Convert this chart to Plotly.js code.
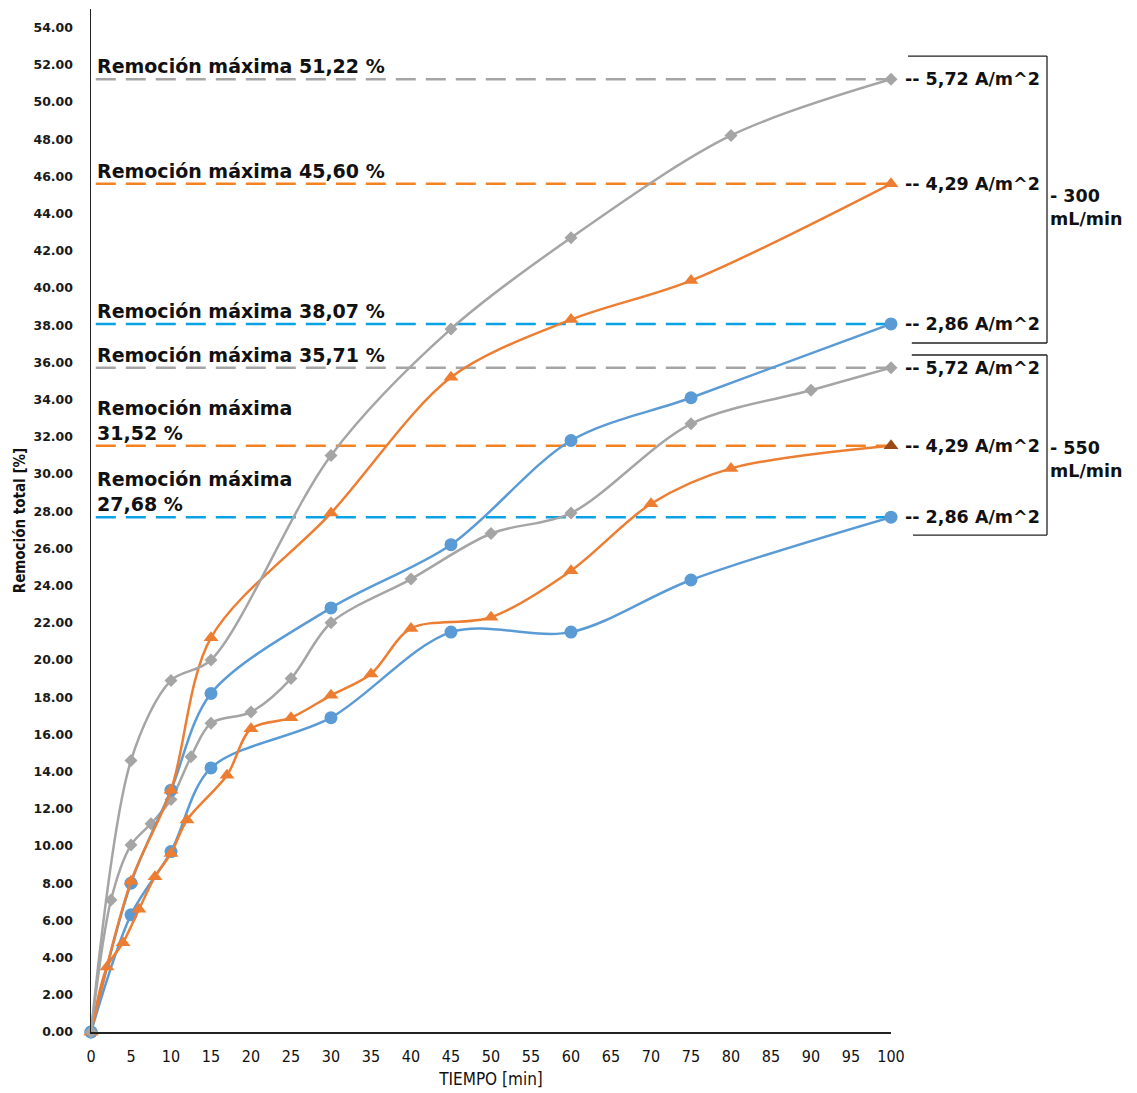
<!DOCTYPE html>
<html>
<head>
<meta charset="utf-8">
<script src="https://cdn.plot.ly/plotly-3.0.1.min.js"></script>
<style>html,body{margin:0;padding:0;background:#fff;}#chart{width:1137px;height:1093px;}</style>
</head>
<body>
<div id="chart"></div>
<script>
// ---- Data ----
// 300 mL/min
const t300 = [0, 5, 10, 15, 30, 45, 60, 75, 100];
const blue300 = [0, 8.0, 13.0, 18.2, 22.8, 26.2, 31.8, 34.1, 38.07];
const orange300 = [0, 8.1, 13.0, 21.2, 27.9, 35.2, 38.3, 40.4, 45.60];
const tGray300 = [0, 5, 10, 15, 30, 45, 60, 80, 100];
const gray300 = [0, 14.6, 18.9, 20.0, 31.0, 37.8, 42.7, 48.2, 51.22];
// 550 mL/min
const tBlue550 = [0, 5, 10, 15, 30, 45, 60, 75, 100];
const blue550 = [0, 6.3, 9.7, 14.2, 16.9, 21.5, 21.5, 24.3, 27.68];
const tOrange550 = [0, 2, 4, 6, 8, 10, 12, 17, 20, 25, 30, 35, 40, 50, 60, 70, 80, 100];
const orange550 = [0, 3.5, 4.8, 6.6, 8.35, 9.6, 11.4, 13.8, 16.3, 16.9, 18.1, 19.25, 21.7, 22.3, 24.8, 28.4, 30.3, 31.52];
const tGray550 = [0, 2.5, 5, 7.5, 10, 12.5, 15, 20, 25, 30, 40, 50, 60, 75, 90, 100];
const gray550 = [0, 7.1, 10.05, 11.2, 12.5, 14.8, 16.6, 17.2, 19.0, 22.0, 24.35, 26.8, 27.9, 32.7, 34.5, 35.71];

// maximum removal lines
const maxValues = [51.22, 45.60, 38.07, 35.71, 31.52, 27.68];
const maxLabels = ["Remoción máxima 51,22 %", "Remoción máxima 45,60 %", "Remoción máxima 38,07 %",
                   "Remoción máxima 35,71 %", "Remoción máxima<br>31,52 %", "Remoción máxima<br>27,68 %"];
const densityLabels = ["-- 5,72 A/m^2", "-- 4,29 A/m^2", "-- 2,86 A/m^2",
                       "-- 5,72 A/m^2", "-- 4,29 A/m^2", "-- 2,86 A/m^2"];
const flowLabels = ["- 300<br>mL/min", "- 550<br>mL/min"];
const xTicks = [0,5,10,15,20,25,30,35,40,45,50,55,60,65,70,75,80,85,90,95,100];
const yTicks = [0,2,4,6,8,10,12,14,16,18,20,22,24,26,28,30,32,34,36,38,40,42,44,46,48,50,52,54];

// ---- Styles ----
const BLUE = '#5B9BD5', ORANGE = '#ED7D31', GRAY = '#A5A5A5';
const dashColors = ['#A5A5A5', '#F58220', '#0AA2E4', '#A5A5A5', '#F58220', '#0AA2E4'];
const COND = 'DejaVu Sans Condensed, Liberation Sans Narrow, Arial Narrow, sans-serif';
const labelFont = {family: 'DejaVu Sans, Verdana, sans-serif', size: 17.5, color: '#111'};

function series(x, y, color, symbol, size, mcolors) {
  return {
    x: x, y: y, type: 'scatter', mode: 'lines+markers',
    line: {color: color, width: 2.5, shape: 'spline', smoothing: 0.9},
    marker: {color: mcolors || color, symbol: symbol, size: size},
    cliponaxis: false, hoverinfo: 'x+y'
  };
}
const orange550Colors = orange550.map((v, i) => i === orange550.length - 1 ? '#9C4A14' : ORANGE);

const traces = [
  series(tBlue550, blue550, BLUE, 'circle', 13),
  series(tOrange550, orange550, ORANGE, 'triangle-up', 13, orange550Colors),
  series(tGray550, gray550, GRAY, 'diamond', 10),
  series(t300, blue300, BLUE, 'circle', 13),
  series(t300, orange300, ORANGE, 'triangle-up', 13),
  series(tGray300, gray300, GRAY, 'diamond', 10)
];

const shapes = maxValues.map((v, i) => ({
  type: 'line', xref: 'paper', yref: 'y', x0: 0.006, x1: 1, y0: v, y1: v,
  line: {color: dashColors[i], width: 2.5, dash: '20px,10px'}, layer: 'below'
}));
// brackets grouping the flow rates
const brackets = [[0.9540, 0.6735, 1.02125, 1.026], [0.6618, 0.4858, 1.026, 1.0275]];
const bx = 1.195;
brackets.forEach(b => {
  shapes.push({type: 'line', xref: 'paper', yref: 'paper', x0: b[2], x1: bx, y0: b[0], y1: b[0], line: {color: '#222', width: 1.3}});
  shapes.push({type: 'line', xref: 'paper', yref: 'paper', x0: bx, x1: bx, y0: b[0], y1: b[1], line: {color: '#222', width: 1.3}});
  shapes.push({type: 'line', xref: 'paper', yref: 'paper', x0: b[3], x1: bx, y0: b[1], y1: b[1], line: {color: '#222', width: 1.3}});
});

const annotations = [];
maxValues.forEach((v, i) => {
  annotations.push({
    xref: 'paper', yref: 'y', x: 0.005, y: v, xanchor: 'left', yanchor: 'bottom', yshift: 0,
    text: '<b>' + maxLabels[i] + '</b>', showarrow: false, align: 'left',
    font: {family: 'DejaVu Sans, Verdana, sans-serif', size: 19, color: '#111'}
  });
  annotations.push({
    xref: 'paper', yref: 'y', x: 1.015, y: v, xanchor: 'left', yanchor: 'middle',
    text: '<b>' + densityLabels[i] + '</b>', showarrow: false, align: 'left', font: labelFont
  });
});
[0.8055, 0.5601].forEach((py, i) => {
  annotations.push({
    xref: 'paper', yref: 'paper', x: 1.196, y: py, xanchor: 'left', yanchor: 'middle',
    text: '<b>' + flowLabels[i] + '</b>', showarrow: false, align: 'left', font: labelFont
  });
});

const layout = {
  width: 1137, height: 1093,
  margin: {l: 91, r: 246, t: 9, b: 61},
  paper_bgcolor: '#fff', plot_bgcolor: '#fff',
  showlegend: false,
  xaxis: {
    range: [0, 100], tickvals: xTicks, ticktext: xTicks.map(String),
    showgrid: false, zeroline: false, showline: true, linecolor: '#222', linewidth: 1.5,
    ticks: '', ticklabelstandoff: 9,
    tickfont: {family: COND, size: 16, color: '#111'},
    title: {text: 'TIEMPO [min]', standoff: 8,
            font: {family: COND, size: 17, color: '#111'}}
  },
  yaxis: {
    range: [0, 55], tickvals: yTicks, ticktext: yTicks.map(v => v.toFixed(2)),
    showgrid: false, zeroline: false, showline: true, linecolor: '#222', linewidth: 1.5,
    ticks: '', ticklabelstandoff: 14,
    tickfont: {family: 'DejaVu Sans, Verdana, sans-serif', size: 12.5, color: '#1a1a1a', weight: 'bold'},
    title: {text: '<b>Remoción total [%]</b>', standoff: 4,
            font: {family: COND, size: 15, color: '#111'}}
  },
  shapes: shapes,
  annotations: annotations
};

Plotly.newPlot('chart', traces, layout, {displayModeBar: false, staticPlot: true});
</script>
</body>
</html>
